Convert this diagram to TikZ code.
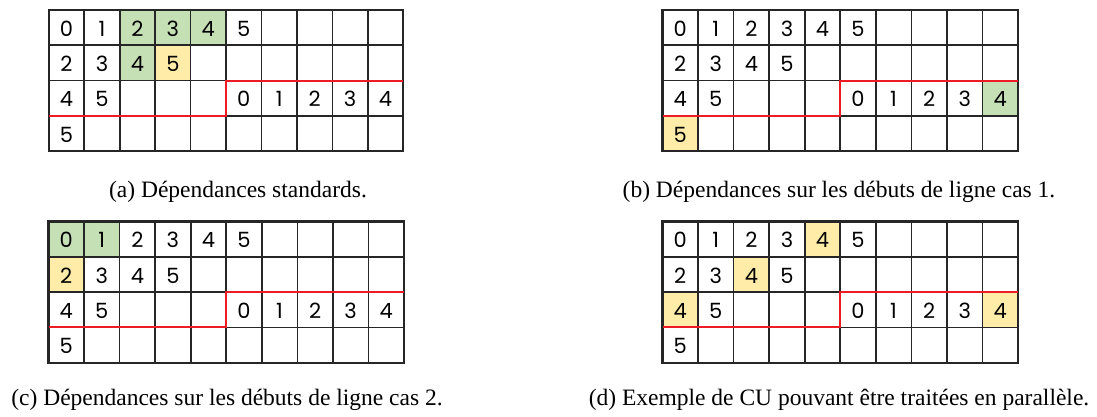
\documentclass[tikz,border=0pt]{standalone}
\usepackage{fontspec}
\setmainfont{Liberation Serif}
\newfontfamily\digitfont{Poppins}
\definecolor{cgreen}{RGB}{197,224,180}
\definecolor{cyellow}{RGB}{255,236,168}
\definecolor{cred}{RGB}{237,28,36}
\tikzset{
  gridline/.style={line width=1.6pt, draw=black!85},
  outerline/.style={line width=2.2pt, draw=black!85},
  redline/.style={line width=2pt, draw=cred},
  dig/.style={font=\digitfont\fontsize{21}{21}\selectfont, inner sep=0pt},
  capt/.style={font=\fontsize{23.5}{28}\selectfont, anchor=base, inner sep=0pt},
  gcell/.style={fill=cgreen},
  ycell/.style={fill=cyellow},
}
\newcommand\gridbody[1]{%
  \foreach \i in {1,...,9} \draw[gridline] (\i,0) -- (\i,4);
  \foreach \j in {1,2,3} \draw[gridline] (0,\j) -- (10,\j);
  \draw[outerline] (0,0) rectangle (10,4);
  \draw[redline] (0,3) -- (5,3) -- (5,2) -- (10,2);
  \foreach \c in {0,...,5} \node[dig] (#1-r0-\c) at (\c+0.5,0.53) {\c};
  \foreach \c/\v in {0/2,1/3,2/4,3/5} \node[dig] (#1-r1-\c) at (\c+0.5,1.53) {\v};
  \foreach \c/\v in {0/4,1/5,5/0,6/1,7/2,8/3,9/4} \node[dig] (#1-r2-\c) at (\c+0.5,2.53) {\v};
  \node[dig] (#1-r3-0) at (0.5,3.53) {5};
}
\begin{document}
\begin{tikzpicture}[x=1pt,y=-1pt]
\useasboundingbox (0,0) rectangle (1097,416);
% (a)
\begin{scope}[shift={(48.8,10)}, x=35.45pt, y=-35.25pt]
  \fill[cgreen] (2,0) rectangle (5,1);
  \fill[cgreen] (2,1) rectangle (3,2);
  \fill[cyellow] (3,1) rectangle (4,2);
  \gridbody{a}
\end{scope}
% (b)
\begin{scope}[shift={(662.5,10)}, x=35.55pt, y=-35.25pt]
  \fill[cgreen] (9,2) rectangle (10,3);
  \fill[cyellow] (0,3) rectangle (1,4);
  \gridbody{b}
\end{scope}
% (c)
\begin{scope}[shift={(48.5,221.5)}, x=35.55pt, y=-35.3pt]
  \fill[cgreen] (0,0) rectangle (2,1);
  \fill[cyellow] (0,1) rectangle (1,2);
  \gridbody{c}
\end{scope}
% (d)
\begin{scope}[shift={(662.5,221.5)}, x=35.55pt, y=-35.3pt]
  \fill[cyellow] (4,0) rectangle (5,1);
  \fill[cyellow] (2,1) rectangle (3,2);
  \fill[cyellow] (0,2) rectangle (1,3);
  \fill[cyellow] (9,2) rectangle (10,3);
  \gridbody{d}
\end{scope}
\node[capt] (capa) at (238,197) {(a) Dépendances standards.};
\node[capt] (capb) at (839,197) {(b) Dépendances sur les débuts de ligne cas 1.};
\node[capt] (capc) at (227,405) {(c) Dépendances sur les débuts de ligne cas 2.};
\node[capt] (capd) at (839,405) {(d) Exemple de CU pouvant être traitées en parallèle.};
\end{tikzpicture}
\end{document}
